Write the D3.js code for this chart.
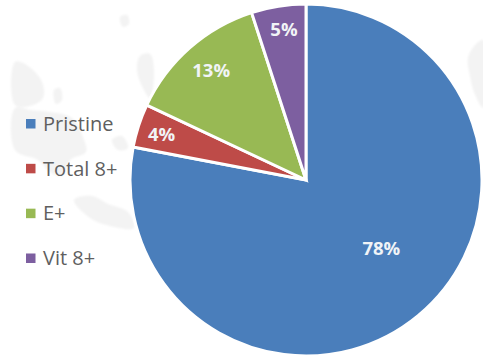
<!DOCTYPE html>
<html>
<head>
<meta charset="utf-8">
<script src="https://cdn.jsdelivr.net/npm/d3@7"></script>
<style>
html,body{margin:0;padding:0;background:#fff}
svg{display:block}
text{font-family:"Open Sans",sans-serif}
</style>
</head>
<body>
<svg id="chart" width="483" height="360"></svg>
<script>
const categories = ["Pristine", "Total 8+", "E+", "Vit 8+"];
const shares = [78, 4, 13, 5];
const sliceColors = ["#4a7ebb", "#be4b48", "#98b954", "#7d5fa0"];
const labelSuffix = "%";

const cx = 306, cy = 180, radius = 176;

const svg = d3.select("#chart");

svg.append("defs").append("filter").attr("id", "soft")
  .append("feGaussianBlur").attr("stdDeviation", 1.2);

// Faint landmasses behind the legend
const land = [
  [[15,62],[28,66],[42,82],[43,98],[30,106],[15,105]],
  [[15,108],[30,110],[50,112],[72,118],[84,140],[86,152],[70,160],[62,176],[50,172],[38,160],[15,150]],
  [[74,200],[92,196],[108,204],[128,212],[134,228],[110,226],[90,218]],
  [[112,140],[122,136],[128,148],[118,150]],
  [[140,56],[150,54],[154,72],[150,98],[142,86],[137,70]],
  [[54,90],[60,88],[62,100],[56,104]],
  [[120,17],[127,15],[129,24],[123,27]],
  [[468,58],[476,44],[483,40],[483,108],[474,92],[470,76]]
];
const landPath = d3.line().curve(d3.curveCatmullRomClosed.alpha(0.5));
svg.append("g").attr("filter", "url(#soft)")
  .selectAll("path").data(land).join("path")
  .attr("d", landPath).attr("fill", "#f3f3f3");

const order = d3.range(categories.length);
const pie = d3.pie().sort(null).value(i => shares[i]);
const arc = d3.arc().innerRadius(0).outerRadius(radius);

const slices = svg.append("g").attr("transform", `translate(${cx},${cy})`);
slices.selectAll("path").data(pie(order)).join("path")
  .attr("d", arc)
  .attr("fill", d => sliceColors[d.data])
  .attr("stroke", "#fff")
  .attr("stroke-width", 3)
  .attr("stroke-linejoin", "miter");

// Percent labels start at the arc centroid and are nudged to clear the wedge tips
const labelArc = d3.arc().innerRadius(radius * 0.6).outerRadius(radius * 0.6);
const labelNudge = [[8, -13], [-44, -13], [-25, -30], [-5.5, -46]];
slices.selectAll("text").data(pie(order)).join("text")
  .attr("transform", d => {
    const [x, y] = labelArc.centroid(d);
    const [dx, dy] = labelNudge[d.data];
    return `translate(${x + dx},${y + dy})`;
  })
  .attr("text-anchor", "middle")
  .attr("dy", "0.36em")
  .attr("fill", "#f1f4f7")
  .attr("font-size", 18.5)
  .attr("font-weight", 700)
  .text(d => shares[d.data] + labelSuffix);

// Legend
const legendY = d3.scalePoint().domain(order).range([123.5, 258]);
const legend = svg.append("g").selectAll("g").data(order).join("g")
  .attr("transform", i => `translate(26,${legendY(i)})`);
legend.append("rect")
  .attr("x", 0).attr("y", -4.5).attr("width", 9.5).attr("height", 9.5)
  .attr("fill", i => sliceColors[i]);
legend.append("text")
  .attr("x", 17).attr("dy", "0.36em")
  .attr("fill", "#5f5f5f")
  .attr("font-size", 20)
  .text(i => categories[i]);
</script>
</body>
</html>
